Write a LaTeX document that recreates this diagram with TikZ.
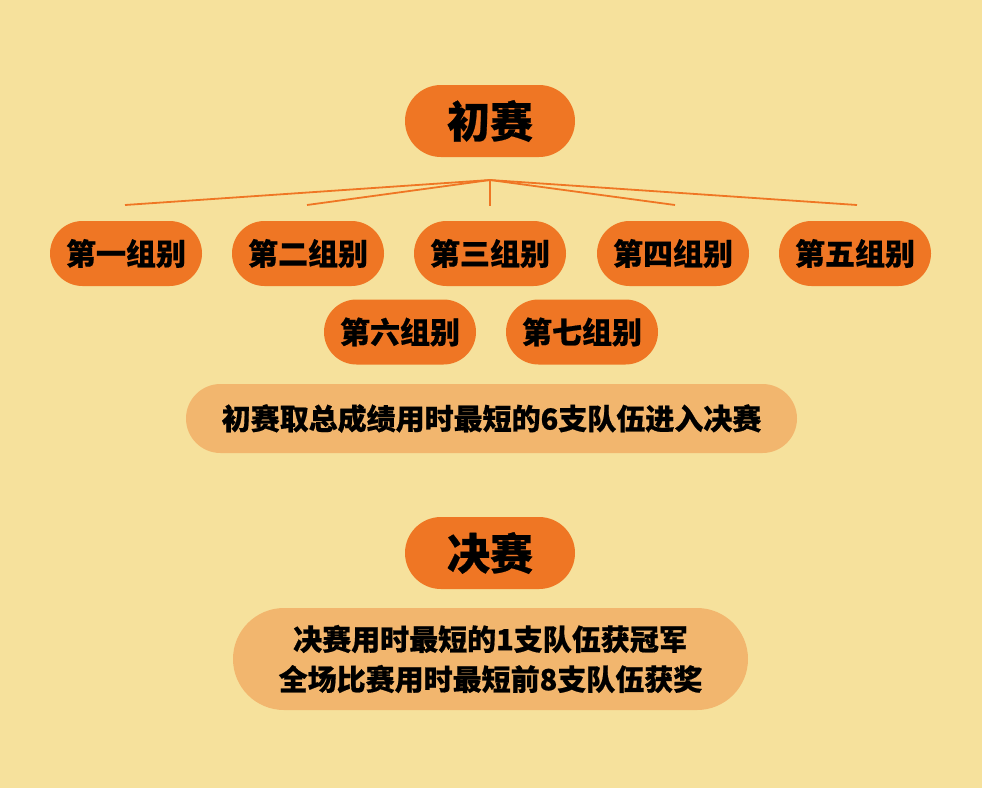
\documentclass[tikz,border=0pt]{standalone}
\usepackage{fontspec}
\newfontfamily\cjk{Noto Sans CJK SC}[FakeBold=0.6]
\definecolor{bg}{HTML}{F6E19C}
\definecolor{org}{HTML}{EF7624}
\definecolor{lorg}{HTML}{F2B66E}
\begin{document}
\begin{tikzpicture}[x=1pt,y=-1pt,
  pill/.style={rectangle,inner sep=0pt,text=black,font=\cjk\bfseries},
  title/.style={pill,fill=org,minimum width=170pt,minimum height=72pt,rounded corners=36pt,font=\cjk\bfseries\fontsize{43}{50}\selectfont},
  grp/.style={pill,fill=org,minimum width=152pt,minimum height=65pt,rounded corners=32.5pt,font=\cjk\bfseries\fontsize{30}{36}\selectfont},
  info/.style={pill,fill=lorg,rounded corners=34.5pt,font=\cjk\bfseries\fontsize{29}{40}\selectfont,align=center},
  link/.style={draw=org,line width=1.8pt}]
\path[fill=bg] (0,0) rectangle (982,788);
\node[title] (t1) at (490,121) {初赛};
\coordinate (hub) at (490,180);
\node[grp] (g1) at (126,253.5) {第一组别};
\node[grp] (g2) at (308,253.5) {第二组别};
\node[grp] (g3) at (490,253.5) {第三组别};
\node[grp] (g4) at (673,253.5) {第四组别};
\node[grp] (g5) at (855,253.5) {第五组别};
\node[grp] (g6) at (400,332) {第六组别};
\node[grp] (g7) at (582,332) {第七组别};
\coordinate (e1) at (125,205);
\coordinate (e2) at (307,205);
\coordinate (e3) at (490,206);
\coordinate (e4) at (675,205);
\coordinate (e5) at (857,205);
\foreach \e in {e1,e2,e3,e4,e5} \draw[link] (hub) -- (\e);
\node[info,minimum width=611pt,minimum height=69pt] (r1) at (491.5,418.5) {初赛取总成绩用时最短的6支队伍进入决赛};
\node[title] (t2) at (490,553) {决赛};
\node[info,minimum width=515pt,minimum height=102pt,rounded corners=51pt] (r2) at (490.5,659) {决赛用时最短的1支队伍获冠军\\全场比赛用时最短前8支队伍获奖};
\end{tikzpicture}
\end{document}
